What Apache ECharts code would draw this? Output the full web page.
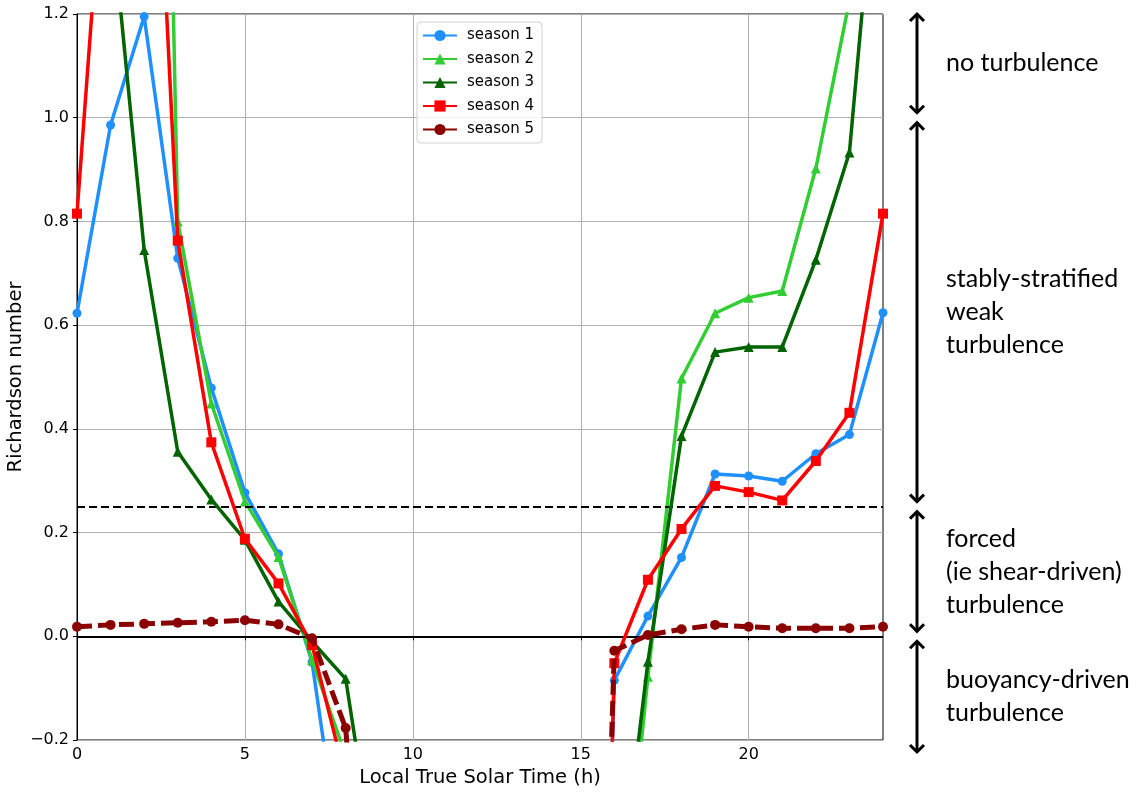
<!DOCTYPE html>
<html>
<head>
<meta charset="utf-8">
<script src="https://cdn.jsdelivr.net/npm/echarts@6/dist/echarts.min.js"></script>
<style>
html,body{margin:0;padding:0;background:#fff;}
#chart{width:1148px;height:793px;}
</style>
</head>
<body>
<div id="chart"></div>
<script>
// Hours (Local True Solar Time)
const hours = [0,1,2,3,4,5,6,7,8,9,10,11,12,13,14,15,16,17,18,19,20,21,22,23,24];
// Richardson number per season (values beyond the axis range are estimates of off-chart points)
const season1 = [0.623,0.986,1.195,0.729,0.479,0.277,0.159,-0.05,-0.5,-1.8,-3.2,-4.0,-4.1,-3.6,-2.9,-2.2,-0.085,0.039,0.152,0.313,0.309,0.299,0.352,0.389,0.624];
const season2 = [2.2,3.0,3.9,0.800,0.449,0.260,0.153,-0.046,-0.23,-1.2,-2.5,-3.4,-3.8,-3.5,-2.7,-1.6,-0.72,-0.078,0.497,0.623,0.653,0.666,0.902,1.226,2.2];
const season3 = [1.65,1.405,0.745,0.356,0.264,0.186,0.067,-0.01,-0.082,-0.5,-1.4,-2.3,-2.8,-2.6,-2.0,-1.3,-0.59,-0.049,0.386,0.548,0.558,0.558,0.726,0.933,1.65];
const season4 = [0.815,1.69,2.09,0.763,0.374,0.188,0.102,-0.017,-0.275,-1.1,-2.4,-3.3,-3.7,-3.5,-3.0,-2.6,-0.052,0.109,0.207,0.290,0.278,0.262,0.338,0.431,0.815];
const season5 = [0.0185,0.022,0.024,0.026,0.028,0.031,0.023,-0.004,-0.177,-1.0,-2.0,-2.6,-3.0,-2.9,-2.5,-2.1,-0.028,0.0025,0.0135,0.022,0.0185,0.0154,0.0154,0.0154,0.0185];
const seasonNames = ['season 1','season 2','season 3','season 4','season 5'];
// Reference lines
const zeroLine = 0;
const criticalRi = 0.25;
// Regime boundaries and labels (right side)
const regimeBounds = [1.2, 1.0, 0.25, 0.0, -0.2];
const regimeLabels = [
  'no turbulence',
  'stably-stratified\nweak\nturbulence',
  'forced\n(ie shear-driven)\nturbulence',
  'buoyancy-driven\nturbulence'
];
// Ticks
const xTicks = [0,5,10,15,20];
const yTicks = [-0.2,0.0,0.2,0.4,0.6,0.8,1.0,1.2];

const pair = arr => hours.map((h,i)=>[h,arr[i]]);
const FONT = 'DejaVu Sans';

const styles = [
  {color:'#1E90FF', symbol:'circle', size:9, type:'solid', width:3.5},
  {color:'#32CD32', symbol:'triangle', size:10, type:'solid', width:3.5},
  {color:'#006400', symbol:'triangle', size:10, type:'solid', width:3.5},
  {color:'#FF0000', symbol:'rect', size:10, type:'solid', width:3.5},
  {color:'#8B0000', symbol:'circle', size:10, type:[15,6], width:5}
];
const seriesData = [season1,season2,season3,season4,season5];

const series = seriesData.map((d,i)=>({
  name: seasonNames[i],
  type:'line',
  data: pair(d),
  symbol: styles[i].symbol,
  symbolSize: styles[i].size,
  showAllSymbol: true,
  clip: true,
  itemStyle:{color: styles[i].color},
  lineStyle:{color: styles[i].color, width: styles[i].width, type: styles[i].type},
  z: 3 + i
}));
series.push({
  name:'refs', type:'line', data:[], z: 10,
  markLine:{
    silent:true, symbol:['none','none'], label:{show:false}, animation:false,
    data:[
      {yAxis: zeroLine, lineStyle:{type:'solid', color:'#000', width:2}},
      {yAxis: criticalRi, lineStyle:{type:[8,4], color:'#000', width:2}}
    ]
  }
});

const chart = echarts.init(document.getElementById('chart'), null, {renderer:'canvas'});
chart.setOption({
  animation:false,
  backgroundColor:'#fff',
  grid:{left:77, right:265, top:14, bottom:53, show:true, borderColor:'#000', borderWidth:1,
    backgroundColor:'transparent', containLabel:false, outerBoundsMode:'none'},
  legend:{
    data: seasonNames,
    orient:'vertical', left:417, top:22,
    padding:[6,8,6,5],
    itemWidth:34, itemHeight:14, itemGap:8.5,
    backgroundColor:'rgba(255,255,255,0.85)',
    borderColor:'#d0d0d0', borderWidth:1, borderRadius:4,
    textStyle:{fontFamily:FONT, fontSize:15, color:'#000', padding:[0,0,0,5]}
  },
  xAxis:{
    type:'value', min:0, max:24, interval:5,
    name:'Local True Solar Time (h)', nameLocation:'middle', nameGap:28,
    nameTextStyle:{fontFamily:FONT, fontSize:19.5, color:'#000'},
    axisLine:{show:true, lineStyle:{color:'#000', width:1}},
    axisTick:{show:true, length:4, lineStyle:{color:'#000'},
      customValues: xTicks},
    axisLabel:{fontFamily:FONT, fontSize:16, color:'#000', margin:7,
      customValues: xTicks,
      formatter: v => (xTicks.indexOf(v) >= 0 ? String(v) : '')},
    splitLine:{show:true, lineStyle:{color:'#b0b0b0', width:1}}
  },
  yAxis:{
    type:'value', min:-0.2, max:1.2, interval:0.2,
    name:'Richardson number', nameLocation:'middle', nameGap:51, nameMoveOverlap:false,
    nameTextStyle:{fontFamily:FONT, fontSize:19.5, color:'#000'},
    axisLine:{show:true, lineStyle:{color:'#000', width:1}},
    axisTick:{show:true, length:4, lineStyle:{color:'#000'}},
    axisLabel:{fontFamily:FONT, fontSize:16, color:'#000', margin:8,
      formatter: v => { if (Math.abs(v) < 1e-9) return '0.0'; return (v<0?'\u2212':'') + Math.abs(v).toFixed(1); }},
    splitLine:{show:true, lineStyle:{color:'#b0b0b0', width:1}}
  },
  series: series
});

// Right-side regime annotation (arrows + labels) positioned through the y scale
function drawRegimes(){
  const py = v => chart.convertToPixel({yAxisIndex:0}, v);
  const ax = 917, hw = 7, hh = 7;
  const g = [];
  const ANNOT_FONT = 'Lato';
  for (let i = 0; i < regimeLabels.length; i++){
    let y1 = py(regimeBounds[i]);
    let y2 = py(regimeBounds[i+1]);
    y1 = (i === 0) ? y1 : y1 + 5;
    y2 = (i === regimeLabels.length-1) ? y2 + 12 : y2 - 5;
    const st = {stroke:'#000', lineWidth:3, fill:null};
    g.push({type:'line', shape:{x1:ax, y1:y1+1, x2:ax, y2:y2-1}, style:st, silent:true});
    g.push({type:'polyline', shape:{points:[[ax-hw,y1+hh],[ax,y1],[ax+hw,y1+hh]]}, style:st, silent:true});
    g.push({type:'polyline', shape:{points:[[ax-hw,y2-hh],[ax,y2],[ax+hw,y2-hh]]}, style:st, silent:true});
    g.push({type:'text', x:946, y:(y1+y2)/2, silent:true,
      style:{text:regimeLabels[i], fill:'#000', font:'25px ' + ANNOT_FONT, lineHeight:33,
        textAlign:'left', textVerticalAlign:'middle'}});
  }
  chart.setOption({graphic:g});
}
drawRegimes();
</script>
</body>
</html>
